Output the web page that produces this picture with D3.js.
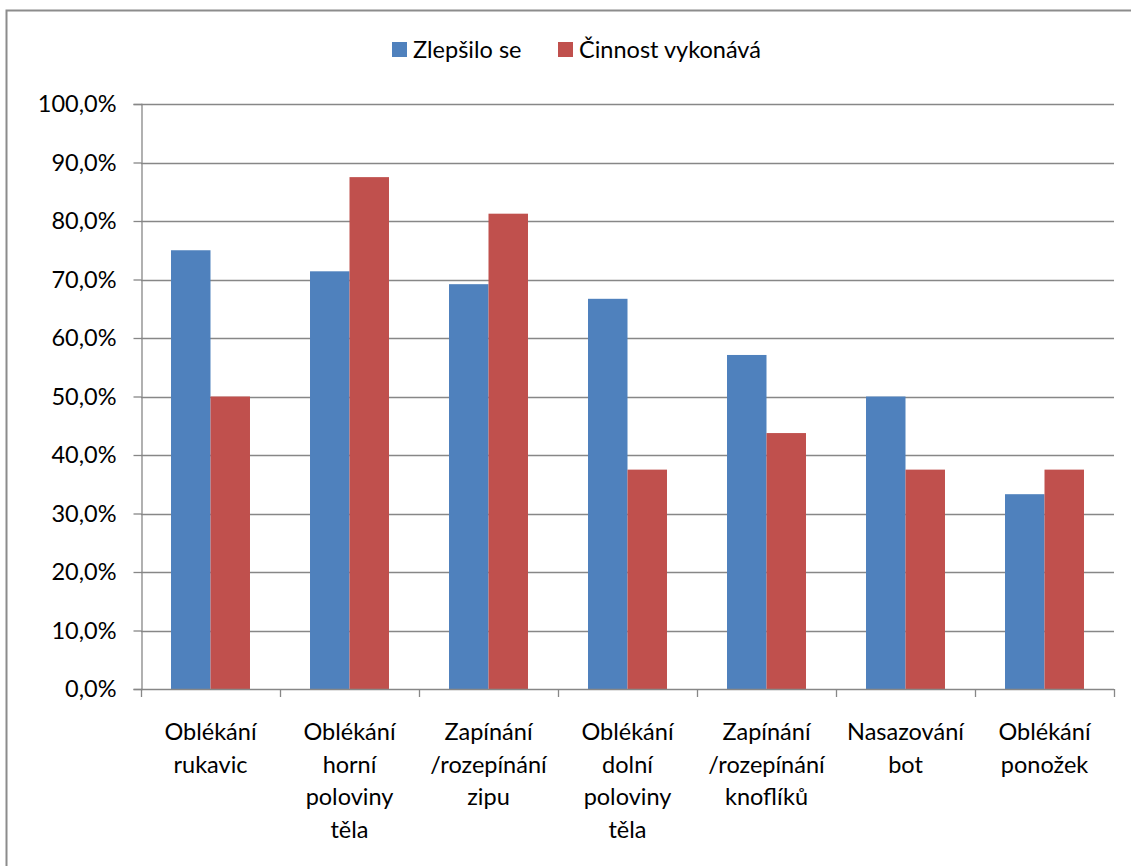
<!DOCTYPE html>
<html>
<head>
<meta charset="utf-8">
<script src="https://cdn.jsdelivr.net/npm/d3@7"></script>
<style>
  body { margin: 0; background: #fff; }
  svg { display: block; font-family: Lato, "Open Sans", sans-serif; }
</style>
</head>
<body>
<svg id="chart" width="1131" height="866"></svg>
<script>
// Dressing activities and the two measured shares (percent)
const categories = [
  ["Oblékání", "rukavic"],
  ["Oblékání", "horní", "poloviny", "těla"],
  ["Zapínání", "/rozepínání", "zipu"],
  ["Oblékání", "dolní", "poloviny", "těla"],
  ["Zapínání", "/rozepínání", "knoflíků"],
  ["Nasazování", "bot"],
  ["Oblékání", "ponožek"]
];
const seriesNames = ["Zlepšilo se", "Činnost vykonává"];
const improved = [75.0, 71.4, 69.2, 66.7, 57.1, 50.0, 33.3];
const performs = [50.0, 87.5, 81.25, 37.5, 43.75, 37.5, 37.5];
const yTicks = [0, 10, 20, 30, 40, 50, 60, 70, 80, 90, 100];
const colors = ["#4f81bd", "#c0504d"];

const FS = 23.5;
const svg = d3.select("#chart");

// outer chart frame
svg.append("rect")
  .attr("x", 6.5).attr("y", 10.5)
  .attr("width", 1140).attr("height", 870)
  .attr("fill", "none").attr("stroke", "#8c8c8c").attr("stroke-width", 2);

const plotL = 141, plotR = 1114, plotT = 104, plotB = 689;

const x = d3.scaleBand().domain(d3.range(categories.length)).range([plotL, plotR]).paddingInner(0).paddingOuter(0);
const inner = d3.scaleBand().domain([0, 1]).range([0, x.bandwidth()]).paddingInner(0).paddingOuter(0.76);
const y = d3.scaleLinear().domain([0, 100]).range([plotB, plotT]);

const fmt = v => d3.format(".1f")(v).replace(".", ",") + "%";

// horizontal gridlines
svg.append("g")
  .selectAll("line")
  .data(yTicks.filter(t => t > 0))
  .join("line")
  .attr("x1", plotL).attr("x2", plotR)
  .attr("y1", d => Math.round(y(d)) + 0.5).attr("y2", d => Math.round(y(d)) + 0.5)
  .attr("stroke", "#878787").attr("stroke-width", 1.3);

// bars
const series = [improved, performs];
series.forEach((vals, s) => {
  svg.append("g")
    .selectAll("rect")
    .data(vals)
    .join("rect")
    .attr("x", (d, i) => x(i) + inner(s))
    .attr("width", inner.bandwidth())
    .attr("y", d => y(d))
    .attr("height", d => y(0) - y(d))
    .attr("fill", colors[s]);
});

// y axis
const yAxis = d3.axisLeft(y).tickValues(yTicks).tickFormat(fmt).tickSize(8).tickPadding(17);
const gy = svg.append("g").attr("transform", `translate(${plotL + 0.5},0)`).call(yAxis);
gy.select(".domain").attr("stroke", "#878787").attr("stroke-width", 1.3);
gy.selectAll(".tick line").attr("stroke", "#878787").attr("stroke-width", 1.3);
gy.selectAll(".tick text").attr("font-size", FS).attr("fill", "#000").attr("font-family", "Lato, sans-serif");

// x axis with ticks at category boundaries
const xAxisG = svg.append("g");
xAxisG.append("line")
  .attr("x1", plotL).attr("x2", plotR)
  .attr("y1", plotB + 0.5).attr("y2", plotB + 0.5)
  .attr("stroke", "#878787").attr("stroke-width", 1.3);
xAxisG.selectAll(".tk")
  .data(d3.range(categories.length + 1))
  .join("line")
  .attr("class", "tk")
  .attr("x1", i => (i < categories.length ? x(i) : plotR) + 0.5)
  .attr("x2", i => (i < categories.length ? x(i) : plotR) + 0.5)
  .attr("y1", plotB).attr("y2", plotB + 8)
  .attr("stroke", "#878787").attr("stroke-width", 1.3);

// category labels
const lab = svg.append("g")
  .selectAll("text")
  .data(categories)
  .join("text")
  .attr("text-anchor", "middle")
  .attr("font-size", FS)
  .attr("fill", "#000")
  .attr("transform", (d, i) => `translate(${x(i) + x.bandwidth() / 2},${740})`);
lab.selectAll("tspan")
  .data(d => d)
  .join("tspan")
  .attr("x", 0)
  .attr("y", (d, j) => j * 32.7)
  .text(d => d);

// legend
const legendX = [392, 558];
const lg = svg.append("g");
seriesNames.forEach((name, s) => {
  lg.append("rect")
    .attr("x", legendX[s]).attr("y", 42)
    .attr("width", 15).attr("height", 15)
    .attr("fill", colors[s]);
  lg.append("text")
    .attr("x", legendX[s] + 21).attr("y", 57.5)
    .attr("font-size", FS).attr("fill", "#000")
    .text(name);
});
</script>
</body>
</html>
